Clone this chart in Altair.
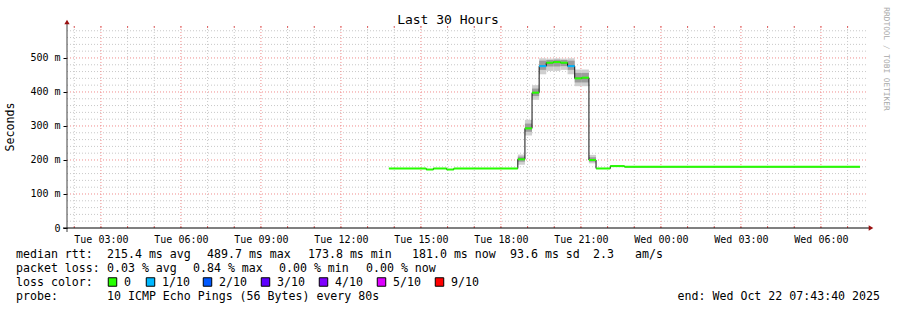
import altair as alt
import pandas as pd

# ---------------- data ----------------
seg_start = [
    "2025-10-21T13:48:00", "2025-10-21T15:12:00", "2025-10-21T15:28:00", "2025-10-21T15:58:00",
    "2025-10-21T16:14:00", "2025-10-21T18:38:00", "2025-10-21T18:54:00", "2025-10-21T19:10:00",
    "2025-10-21T19:26:00", "2025-10-21T19:42:00", "2025-10-21T19:58:00", "2025-10-21T20:14:00",
    "2025-10-21T20:30:00", "2025-10-21T20:46:00", "2025-10-21T21:02:00", "2025-10-21T21:18:00",
    "2025-10-21T21:34:00", "2025-10-21T22:06:00", "2025-10-21T22:38:00",
]
last_end = "2025-10-22T07:28:00"
median_ms = [175, 172, 175, 172, 175, 202, 293, 398, 476, 486, 488, 486, 476, 440, 442, 200, 175, 182, 180]
loss_pings = [0, 0, 0, 0, 0, 0, 0, 0, 1, 0, 0, 0, 1, 0, 0, 0, 0, 0, 0]
smoke_outer_lo = [174, 171, 174, 171, 174, 186, 272, 377, 452, 462, 462, 465, 452, 417, 417, 190, 174, 181, 179]
smoke_outer_hi = [176, 173, 176, 173, 176, 216, 318, 420, 499, 498, 499, 498, 499, 466, 466, 215, 176, 183, 181]
smoke_inner_lo = [175, 172, 175, 172, 175, 195, 283, 388, 465, 475, 475, 476, 465, 428, 428, 195, 175, 182, 180]
smoke_inner_hi = [175, 172, 175, 172, 175, 210, 307, 410, 492, 494, 495, 494, 492, 456, 456, 208, 175, 182, 180]

loss_levels = [0, 1, 2, 3, 4, 5, 9]
loss_labels = ["0", "1/10", "2/10", "3/10", "4/10", "5/10", "9/10"]
loss_colors = ["#26ff00", "#00b8ff", "#0059ff", "#5e00ff", "#7e00ff", "#dd00ff", "#ff0000"]

rtt_stats = ["215.4 ms avg", "489.7 ms max", "173.8 ms min", "181.0 ms now", "93.6 ms sd", "2.3", "am/s"]
loss_stats = ["0.03 % avg", "0.84 % max", "0.00 % min", "0.00 % now"]
probe_text = "10 ICMP Echo Pings (56 Bytes) every 80s"
end_text = "end: Wed Oct 22 07:43:40 2025"
title_text = "Last 30 Hours"

x_start = "2025-10-21T01:43:40"
x_end = "2025-10-22T07:43:40"
y_max = 594
y_major = [0, 100, 200, 300, 400, 500]

# ---------------- layout ----------------
W, H = 800, 202
PL, PT = 67, 26
FONT = "DejaVu Sans Mono"

seg_end = seg_start[1:] + [last_end]
segs = pd.DataFrame({
    "t": seg_start, "t2": seg_end, "v": median_ms, "loss": loss_pings,
    "lo": smoke_outer_lo, "hi": smoke_outer_hi, "ilo": smoke_inner_lo, "ihi": smoke_inner_hi,
})
line_df = pd.DataFrame({"t": seg_start + [last_end], "v": median_ms + [median_ms[-1]]})

hours = pd.date_range("2025-10-21 02:00", "2025-10-22 07:00", freq="h")
minor_v = pd.DataFrame({"t": [h.strftime("%Y-%m-%dT%H:%M:%S") for h in hours if h.hour % 3 != 0]})
major_v = pd.DataFrame({"t": [h.strftime("%Y-%m-%dT%H:%M:%S") for h in hours if h.hour % 3 == 0]})
all_v = pd.DataFrame({"t": [h.strftime("%Y-%m-%dT%H:%M:%S") for h in hours]})
minor_h = pd.DataFrame({"v": [v for v in range(20, y_max, 20) if v % 100 != 0]})
major_h = pd.DataFrame({"v": [v for v in range(100, y_max, 100)]})

major_dt = [alt.DateTime(year=h.year, month=h.month, date=h.day, hours=h.hour)
            for h in hours if h.hour % 3 == 0]

xs = alt.Scale(domain=[x_start, x_end], nice=False)
ys = alt.Scale(domain=[0, y_max], nice=False, zero=True)
xaxis = alt.Axis(values=major_dt, format="%a %H:%M", title=None, grid=False, domain=False,
                 ticks=False, labelPadding=6, labelFont=FONT, labelFontSize=10,
                 labelColor="#000000")
yaxis = alt.Axis(values=y_major, title=None, grid=False, domain=False, ticks=True, tickSize=4,
                 tickColor="#000000", labelPadding=3, labelFont=FONT, labelFontSize=10,
                 labelColor="#000000",
                 labelExpr="datum.value == 0 ? '0\u00a0\u00a0' : datum.value + ' m'")


def X(f):
    return alt.X(f, type="temporal", scale=xs, axis=xaxis)


def Y(f):
    return alt.Y(f, type="quantitative", scale=ys, axis=yaxis)


layers = []
# grid
layers.append(alt.Chart(minor_v).mark_rule(color="#c8c8c8", strokeDash=[1, 2], strokeWidth=1)
              .encode(x=X("t"), y=alt.value(0), y2=alt.value(H)))
layers.append(alt.Chart(minor_h).mark_rule(color="#c8c8c8", strokeDash=[1, 2], strokeWidth=1)
              .encode(y=Y("v"), x=alt.value(0), x2=alt.value(W)))
layers.append(alt.Chart(major_v).mark_rule(color="#f08c8c", strokeDash=[1, 2], strokeWidth=1)
              .encode(x=X("t"), y=alt.value(0), y2=alt.value(H)))
layers.append(alt.Chart(major_h).mark_rule(color="#f08c8c", strokeDash=[1, 2], strokeWidth=1)
              .encode(y=Y("v"), x=alt.value(0), x2=alt.value(W)))
# hour tick marks at top and bottom
layers.append(alt.Chart(all_v).mark_rule(color="#e06060", strokeWidth=1)
              .encode(x=X("t"), y=alt.value(H - 2), y2=alt.value(H)))
layers.append(alt.Chart(all_v).mark_rule(color="#e06060", strokeWidth=1)
              .encode(x=X("t"), y=alt.value(0), y2=alt.value(2)))
# smoke
layers.append(alt.Chart(segs).mark_rect(color="#cfcfcf")
              .encode(x=X("t"), x2="t2", y=Y("lo"), y2="hi"))
layers.append(alt.Chart(segs).mark_rect(color="#9c9c9c")
              .encode(x=X("t"), x2="t2", y=Y("ilo"), y2="ihi"))
# median black step line
layers.append(alt.Chart(line_df).mark_line(color="#101010", strokeWidth=1, interpolate="step-after")
              .encode(x=X("t"), y=Y("v")))
# loss-coloured median segments
layers.append(alt.Chart(segs).mark_rule(strokeWidth=2)
              .encode(x=X("t"), x2="t2", y=Y("v"),
                      color=alt.Color("loss:O", scale=alt.Scale(domain=loss_levels, range=loss_colors),
                                      legend=None)))
# axis lines and arrows
layers.append(alt.Chart().mark_rule(color="#404040", strokeWidth=1)
              .encode(x=alt.value(0), y=alt.value(-4), y2=alt.value(H + 4)))
layers.append(alt.Chart().mark_rule(color="#000000", strokeWidth=1)
              .encode(x=alt.value(-4), x2=alt.value(W + 3), y=alt.value(H)))
layers.append(alt.Chart().mark_point(shape="triangle-up", filled=True, color="#9a1010", size=28, opacity=1)
              .encode(x=alt.value(0), y=alt.value(-4)))
layers.append(alt.Chart().mark_point(shape="triangle-right", filled=True, color="#9a1010", size=28, opacity=1)
              .encode(x=alt.value(W + 4), y=alt.value(H)))


def txt(s, x, y, align="left", size=11.6, angle=0, color="#000000"):
    return (alt.Chart().mark_text(text=s, align=align, baseline="middle", font=FONT,
                                  fontSize=size, angle=angle, color=color)
            .encode(x=alt.value(x - PL), y=alt.value(y - PT)))


layers.append(txt(title_text, 448, 20, align="center", size=13))
layers.append(txt("Seconds", 11, 127, align="center", angle=270))
layers.append(txt("RRDTOOL / TOBI OETIKER", 886, 59, align="center", size=7.8, angle=90, color="#a8a8a8"))

rows_y = [255, 269, 283, 297]
layers.append(txt("median rtt:", 16, rows_y[0]))
for s, x in zip(rtt_stats, [107, 207, 308, 412, 510, 593, 635]):
    layers.append(txt(s, x, rows_y[0]))
layers.append(txt("packet loss:", 16, rows_y[1]))
for s, x in zip(loss_stats, [107, 193, 279, 366]):
    layers.append(txt(s, x, rows_y[1]))
layers.append(txt("loss color:", 16, rows_y[2]))
for lab, col, bx in zip(loss_labels, loss_colors, [108, 146, 203, 261, 319, 377, 435]):
    layers.append(alt.Chart().mark_square(size=72, filled=True, color=col, stroke="#000000",
                                          strokeWidth=1, opacity=1)
                  .encode(x=alt.value(bx + 4.5 - PL), y=alt.value(rows_y[2] - 1 - PT)))
    layers.append(txt(lab, bx + 16, rows_y[2]))
layers.append(txt("probe:", 16, rows_y[3]))
layers.append(txt(probe_text, 107, rows_y[3]))
layers.append(txt(end_text, 880, rows_y[3], align="right"))

chart = (alt.layer(*layers)
         .properties(width=W, height=H, autosize="none",
                     padding={"left": PL, "top": PT, "right": 897 - PL - W, "bottom": 310 - PT - H},
                     background="#ffffff")
         .configure_view(stroke=None))

chart.save("out.html", embed_options={"renderer": "svg", "actions": False})
